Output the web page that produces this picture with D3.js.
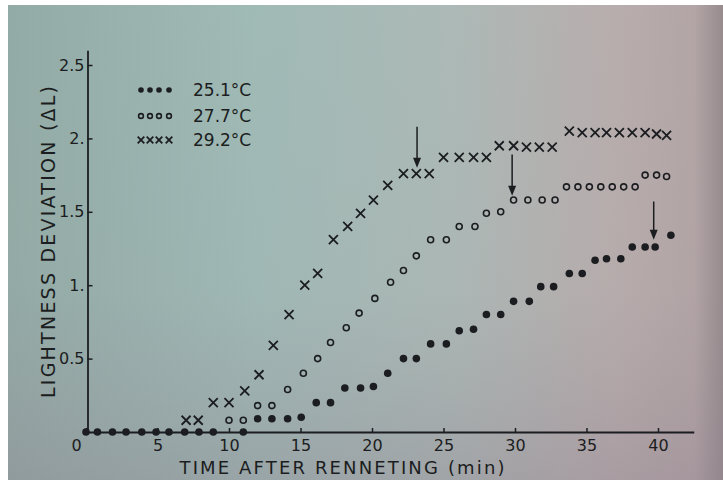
<!DOCTYPE html>
<html><head><meta charset="utf-8">
<script src="https://cdn.jsdelivr.net/npm/d3@7"></script>
<style>html,body{margin:0;padding:0;background:#fff;}svg{display:block;}</style>
</head><body>
<svg id="chart" width="723" height="480"></svg>
<script>
// ---- data ----
const legendLabels = ["25.1°C", "27.7°C", "29.2°C"];

const time251 = [0, 0.8, 1.85, 2.8, 3.9, 4.9, 5.8, 6.9, 7.9, 8.9, 11.0,
  12.0, 13.0, 14.1, 15.05, 16.1, 17.1, 18.1, 19.2, 20.1, 21.1, 22.2, 23.1, 24.1, 25.2,
  26.1, 27.1, 28.0, 29.0, 29.9, 31.0, 31.8, 32.7, 33.8, 34.7, 35.6, 36.4, 37.4,
  38.2, 39.1, 39.8, 40.9];
const dL251 = [0, 0, 0, 0, 0, 0, 0, 0, 0, 0, 0,
  0.09, 0.09, 0.09, 0.1, 0.2, 0.2, 0.3, 0.3, 0.31, 0.4, 0.5, 0.5, 0.6, 0.6,
  0.69, 0.7, 0.8, 0.8, 0.89, 0.89, 0.99, 0.99, 1.08, 1.08, 1.17, 1.18, 1.18,
  1.26, 1.26, 1.26, 1.34];

const time277 = [10.0, 11.0, 12.0, 13.0, 14.1, 15.2, 16.2, 17.1, 18.2, 19.1, 20.2,
  21.3, 22.2, 23.1, 24.1, 25.2, 26.1, 27.2, 28.0, 29.0, 29.9, 30.9, 31.9, 32.8,
  33.6, 34.4, 35.2, 36.0, 36.8, 37.6, 38.4, 39.1, 39.9, 40.6];
const dL277 = [0.08, 0.08, 0.18, 0.18, 0.29, 0.4, 0.5, 0.61, 0.71, 0.81, 0.91,
  1.02, 1.1, 1.2, 1.31, 1.31, 1.4, 1.4, 1.49, 1.5, 1.58, 1.58, 1.58, 1.58,
  1.67, 1.67, 1.67, 1.67, 1.67, 1.67, 1.67, 1.75, 1.75, 1.74];

const time292 = [7.0, 7.85, 8.9, 10.0, 11.1, 12.1, 13.1, 14.2, 15.3, 16.2, 17.3,
  18.3, 19.2, 20.1, 21.1, 22.2, 23.1, 24.0, 25.0, 26.1, 27.1, 28.0,
  28.9, 29.9, 30.8, 31.7, 32.6, 33.8, 34.7, 35.6, 36.4, 37.3, 38.2, 39.1, 39.9, 40.6];
const dL292 = [0.08, 0.08, 0.2, 0.2, 0.28, 0.39, 0.59, 0.8, 1.0, 1.08, 1.31,
  1.4, 1.49, 1.58, 1.68, 1.76, 1.76, 1.76, 1.87, 1.87, 1.87, 1.87,
  1.95, 1.95, 1.94, 1.94, 1.94, 2.05, 2.04, 2.04, 2.04, 2.04, 2.04, 2.04, 2.03, 2.02];

// arrows: time, top value, tip value
const arrowTime = [23.15, 29.8, 39.7];
const arrowTop = [2.08, 1.89, 1.57];
const arrowTip = [1.80, 1.61, 1.31];

const xTickValues = [0, 5, 10, 15, 20, 25, 30, 35, 40];
const yTickValues = [0.5, 1, 1.5, 2, 2.5];
const yTickLabels = ["0.5", "1.", "1.5", "2.", "2.5"];
const xTitle = "TIME AFTER RENNETING (min)";
const yTitle = "LIGHTNESS DEVIATION (\u0394L)";

// ---- drawing ----
const ink = "#1b1d20";
const font = "'DejaVu Sans',sans-serif";
const svg = d3.select("#chart");

const defs = svg.append("defs");
const g1 = defs.append("linearGradient").attr("id", "bgH").attr("x1", "0").attr("x2", "1").attr("y1", "0").attr("y2", "0");
[["0%", "#93aba6"], ["35%", "#a0bab6"], ["62%", "#acb9b6"], ["85%", "#b8adad"], ["96%", "#b3a5a6"], ["100%", "#978b8e"]]
  .forEach(s => g1.append("stop").attr("offset", s[0]).attr("stop-color", s[1]));
const g2 = defs.append("linearGradient").attr("id", "bgV").attr("x1", "0").attr("x2", "0").attr("y1", "0").attr("y2", "1");
[["0%", "rgba(150,160,160,0)"], ["60%", "rgba(150,140,150,0.05)"], ["100%", "rgba(140,125,140,0.35)"]]
  .forEach(s => g2.append("stop").attr("offset", s[0]).attr("stop-color", s[1]));

svg.append("rect").attr("x", 8).attr("y", 5).attr("width", 715).attr("height", 475).attr("fill", "url(#bgH)");
svg.append("rect").attr("x", 8).attr("y", 5).attr("width", 715).attr("height", 475).attr("fill", "url(#bgV)");

const x = d3.scaleLinear().domain([0, 42.5]).range([86, 86 + 42.5 * 14.3]);
const y = d3.scaleLinear().domain([0, 2.6]).range([432, 432 - 2.6 * 146.8]);

// axes
const xAxis = d3.axisBottom(x).tickValues(xTickValues).tickFormat(d3.format("d"))
  .tickSizeInner(-4).tickSizeOuter(0).tickPadding(8);
const gx = svg.append("g").attr("transform", `translate(0,${y(0)})`).call(xAxis);
gx.select(".domain").attr("stroke", ink).attr("stroke-width", 1.8);
gx.selectAll(".tick line").attr("stroke", ink).attr("stroke-width", 1.5);
gx.selectAll(".tick text").attr("fill", ink).attr("font-size", 16).attr("font-family", font)
  .attr("dx", d => d === 0 ? -10 : 0);

const yAxis = d3.axisLeft(y).tickValues(yTickValues).tickFormat((d, i) => yTickLabels[i])
  .tickSizeInner(-5).tickSizeOuter(0).tickPadding(3);
const gy = svg.append("g").attr("transform", `translate(${x(0) + 1.5},0)`).call(yAxis);
gy.select(".domain").attr("stroke", ink).attr("stroke-width", 1.8);
gy.selectAll(".tick line").attr("stroke", ink).attr("stroke-width", 1.5);
gy.selectAll(".tick text").attr("fill", ink).attr("font-size", 16).attr("font-family", font);

// titles
svg.append("text").attr("x", 342).attr("y", 474).attr("text-anchor", "middle")
  .attr("font-family", font).attr("font-size", 18).attr("fill", ink)
  .attr("textLength", 325).attr("lengthAdjust", "spacing").text(xTitle);
svg.append("text").attr("transform", "translate(55,242) rotate(-90)").attr("text-anchor", "middle")
  .attr("font-family", font).attr("font-size", 19).attr("fill", ink)
  .attr("textLength", 312).attr("lengthAdjust", "spacing").text(yTitle);

// marker painters
function dot(sel, r) { sel.append("circle").attr("r", r).attr("fill", ink); }
function ring(sel, r) { sel.append("circle").attr("r", r).attr("fill", "none").attr("stroke", ink).attr("stroke-width", 1.6); }
function cross(sel, s) {
  sel.append("path").attr("d", `M${-s},${-s}L${s},${s}M${-s},${s}L${s},${-s}`)
    .attr("stroke", ink).attr("stroke-width", 1.8).attr("fill", "none");
}

const series = [
  { t: time251, v: dL251, paint: g => dot(g, 3.8), legend: g => dot(g, 2.8) },
  { t: time277, v: dL277, paint: g => ring(g, 3), legend: g => ring(g, 2.4) },
  { t: time292, v: dL292, paint: g => cross(g, 4.5), legend: g => cross(g, 3.3) }
];

series.forEach(s => {
  const pts = s.t.map((t, i) => ({ t, v: s.v[i] }));
  svg.append("g").selectAll("g").data(pts).join("g")
    .attr("transform", d => `translate(${x(d.t)},${y(d.v)})`)
    .each(function () { s.paint(d3.select(this)); });
});

// arrows
const arrows = arrowTime.map((t, i) => ({ t, top: arrowTop[i], tip: arrowTip[i] }));
const ag = svg.append("g");
arrows.forEach(a => {
  const ax = x(a.t), yt = y(a.top), yp = y(a.tip);
  ag.append("line").attr("x1", ax).attr("x2", ax).attr("y1", yt).attr("y2", yp - 6)
    .attr("stroke", ink).attr("stroke-width", 1.5);
  ag.append("path").attr("d", `M${ax - 4},${yp - 10}L${ax + 4},${yp - 10}L${ax},${yp}Z`).attr("fill", ink);
});

// legend
const legY = [90, 116, 140];
const lg = svg.append("g");
series.forEach((s, i) => {
  [141, 150, 159, 169].forEach(px => {
    const g = lg.append("g").attr("transform", `translate(${px},${legY[i]})`);
    s.legend(g);
  });
  lg.append("text").attr("x", 193).attr("y", legY[i] + 6).attr("font-family", font)
    .attr("font-size", 17).attr("fill", ink).text(legendLabels[i]);
});
</script>
</body></html>
